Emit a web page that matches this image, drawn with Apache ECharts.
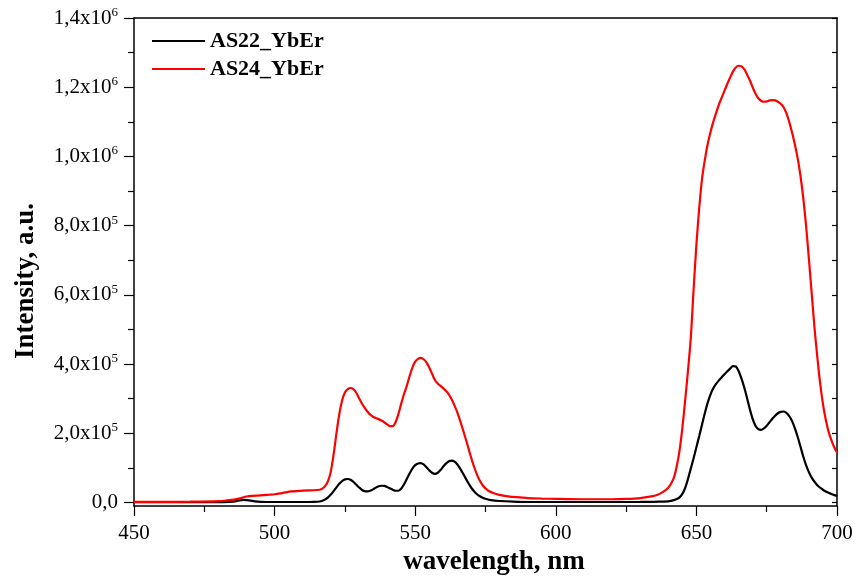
<!DOCTYPE html>
<html><head><meta charset="utf-8">
<script src="https://cdn.jsdelivr.net/npm/echarts@6/dist/echarts.min.js"></script>
<style>html,body{margin:0;padding:0;background:#fff}#c{width:856px;height:578px}</style>
</head><body><div id="c"></div>
<script>
const seriesNames = ['AS22_YbEr', 'AS24_YbEr'];
const xTitle = 'wavelength, nm';
const yTitle = 'Intensity, a.u.';
const yTicks = [0, 200000, 400000, 600000, 800000, 1000000, 1200000, 1400000];
const yMinorTicks = [100000, 300000, 500000, 700000, 900000, 1100000, 1300000];

const wlBlack = [450,470,480,485,487,489,491,493,495,500,510,514,516,517,518,519,520,521,522,523,524,525,526,527,528,529,530,531,532,533,534,535,536,537,538,539,540,541,542,543,544,545,546,547,548,549,550,551,552,553,554,555,556,557,558,559,560,561,562,563,564,565,566,567,568,569,570,571,572,573,574,575,577,580,585,590,600,620,630,635,638,640,641,642,643,644,645,646,647,648,649,650,651,652,653,654,655,656,657,658,659,660,661,662,663,664,665,666,667,668,669,670,671,672,673,674,675,676,677,678,679,680,681,682,683,684,685,686,687,688,689,690,691,692,693,694,695,696,697,698,699,700];
const valBlack = [1000,1000,1200,2500,5500,7500,6000,3500,2000,1500,1500,2000,3000,5000,9000,15000,23000,33000,44000,54000,62000,67000,68000,66000,60000,52000,44000,37000,33000,32000,34000,38000,43000,47000,48500,48000,45000,41000,37000,34000,34000,40000,52000,68000,84000,98000,108000,113000,114000,110000,102000,93000,86000,83000,86000,94000,104000,113000,119000,121000,118000,110000,98000,84000,69000,55000,42000,32000,24000,18000,14000,11000,7000,4500,2500,1500,1500,1500,1800,2200,2800,3500,5000,7000,10000,15000,25000,42000,68000,98000,128000,160000,192000,225000,258000,288000,312000,330000,343000,353000,362000,371000,379000,387000,394000,393000,380000,359000,333000,302000,270000,242000,222000,212000,210000,214000,222000,232000,242000,251000,258000,262000,263000,259000,250000,236000,215000,190000,162000,133000,108000,88000,72000,60000,50000,43000,37000,32000,28000,24500,21500,19000];

const wlRed = [450,460,470,480,483,486,488,490,492,495,498,500,503,506,510,514,516,517,518,519,520,521,522,523,524,525,526,527,528,529,530,531,532,533,534,535,536,537,538,539,540,541,542,543,544,545,546,547,548,549,550,551,552,553,554,555,556,557,558,559,560,561,562,563,564,565,566,567,568,569,570,571,572,573,574,575,576,578,580,583,586,590,595,600,610,620,625,630,634,636,638,640,641,642,643,644,645,646,647,648,649,650,651,652,653,654,655,656,657,658,659,660,661,662,663,664,665,666,667,668,669,670,671,672,673,674,675,676,677,678,679,680,681,682,683,684,685,686,687,688,689,690,691,692,693,694,695,696,697,698,699,700];
const valRed = [2000,2000,2500,4000,6000,9000,13000,17500,19500,20500,22500,24000,28000,32000,34500,35500,37000,40000,48000,62000,90000,140000,200000,255000,295000,318000,328000,331000,328000,318000,302000,287000,274000,263000,254000,248000,244000,241000,237000,232000,226000,221000,221000,232000,255000,285000,313000,337000,365000,390000,407000,415000,418000,414000,405000,390000,372000,354000,344000,337000,330000,322000,312000,298000,280000,260000,236000,210000,183000,155000,127000,102000,80000,63000,50000,41000,34000,27000,22000,18000,15500,13000,11500,10500,9500,9500,10500,13000,18000,22000,30000,43000,55000,72000,105000,150000,215000,295000,380000,475000,615000,745000,850000,935000,990000,1035000,1070000,1100000,1125000,1150000,1170000,1190000,1210000,1228000,1245000,1257000,1262000,1261000,1252000,1237000,1220000,1200000,1182000,1168000,1161000,1158000,1159000,1162000,1163000,1162000,1158000,1152000,1142000,1125000,1100000,1070000,1035000,995000,945000,880000,800000,705000,605000,505000,420000,345000,285000,240000,205000,180000,160000,145000];

const pair = (xs, ys) => xs.map((x, i) => [x, ys[i]]);
const FONT = 'Liberation Serif';
const YMIN = -10000, YMAX = 1400000;

function yLabel(v) {
  if (v === 0) return '{m|0,0}';
  const e = Math.floor(Math.log10(v) + 1e-9);
  const m = (v / Math.pow(10, e)).toFixed(1).replace('.', ',');
  return '{m|' + m + 'x10}{s|' + e + '}';
}

const chart = echarts.init(document.getElementById('c'));
chart.setOption({
  backgroundColor: '#fff',
  animation: false,
  grid: { left: 134, right: 19, top: 18, bottom: 72, containLabel: false },
  legend: {
    orient: 'vertical', left: 147, top: 25, itemWidth: 53, itemHeight: 2, itemGap: 6,
    textStyle: { fontFamily: FONT, fontWeight: 'bold', fontSize: 22, color: '#000' },
    data: seriesNames.map(n => ({ name: n, icon: 'rect' }))
  },
  graphic: [
    { type: 'text', x: 494, y: 562,
      style: { text: xTitle, font: 'bold 27px "Liberation Serif"', fill: '#000', align: 'center', verticalAlign: 'middle' } },
    { type: 'text', x: 26, y: 281, rotation: Math.PI / 2,
      style: { text: yTitle, font: 'bold 27px "Liberation Serif"', fill: '#000', align: 'center', verticalAlign: 'middle' } }
  ],
  xAxis: [
    { type: 'value', min: 450, max: 700, interval: 50, position: 'bottom',
      axisLine: { show: true, onZero: false, lineStyle: { color: '#000', width: 1.5 } },
      axisTick: { show: true, inside: false, length: 10, lineStyle: { color: '#000', width: 1.2 } },
      minorTick: { show: true, splitNumber: 2, length: 6, lineStyle: { color: '#000', width: 1.2 } },
      axisLabel: { fontFamily: FONT, fontSize: 21, color: '#000', margin: 17 },
      splitLine: { show: false }
    },
    { type: 'value', min: 450, max: 700, position: 'top',
      axisLine: { show: true, onZero: false, lineStyle: { color: '#000', width: 1.5 } },
      axisTick: { show: false }, axisLabel: { show: false }, splitLine: { show: false }
    }
  ],
  yAxis: [
    { type: 'value', min: YMIN, max: YMAX, position: 'left',
      axisLine: { show: true, onZero: false, lineStyle: { color: '#000', width: 1.5 } },
      axisTick: { show: true, length: 10, customValues: yTicks, lineStyle: { color: '#000', width: 1.2 } },
      axisLabel: { customValues: yTicks, margin: 16, formatter: yLabel,
        rich: {
          m: { fontFamily: FONT, fontSize: 21, color: '#000' },
          s: { fontFamily: FONT, fontSize: 13, color: '#000', verticalAlign: 'top', padding: [0, 0, 11, 0] }
        } },
      splitLine: { show: false }
    },
    { type: 'value', min: YMIN, max: YMAX, position: 'left',
      axisLine: { show: false, onZero: false },
      axisTick: { show: true, length: 6, customValues: yMinorTicks, lineStyle: { color: '#000', width: 1.2 } },
      axisLabel: { show: false }, splitLine: { show: false }
    },
    { type: 'value', min: YMIN, max: YMAX, position: 'right',
      axisLine: { show: true, onZero: false, lineStyle: { color: '#000', width: 1.5 } },
      axisTick: { show: true, inside: true, length: 5, customValues: yTicks.concat(yMinorTicks), lineStyle: { color: '#000', width: 1.2 } },
      axisLabel: { show: false }, splitLine: { show: false }
    }
  ],
  series: [
    { name: seriesNames[0], type: 'line', xAxisIndex: 0, yAxisIndex: 0, data: pair(wlBlack, valBlack),
      showSymbol: false, symbol: 'none', smooth: 0.3, lineStyle: { color: '#000', width: 2.2 }, itemStyle: { color: '#000' } },
    { name: seriesNames[1], type: 'line', xAxisIndex: 0, yAxisIndex: 0, data: pair(wlRed, valRed),
      showSymbol: false, symbol: 'none', smooth: 0.3, lineStyle: { color: '#ff0000', width: 2.2 }, itemStyle: { color: '#ff0000' } }
  ]
});
</script></body></html>
